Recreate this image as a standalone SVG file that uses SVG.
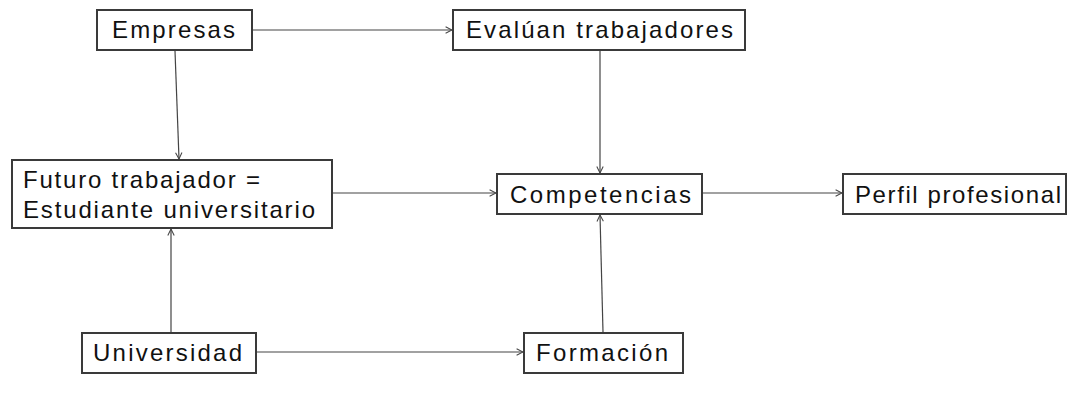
<svg xmlns="http://www.w3.org/2000/svg" width="1070" height="394" viewBox="0 0 1070 394">
<defs>
<style>
.box{fill:#fff;stroke:#3a3a3a;stroke-width:2}
.lbl{font-family:"Liberation Sans",Arial,sans-serif;font-size:24px;fill:#111}
.con{stroke:#444;stroke-width:1.2;fill:none;marker-end:url(#arr)}
</style>
<marker id="arr" viewBox="0 0 10 10" refX="9" refY="5" markerWidth="8" markerHeight="8" markerUnits="userSpaceOnUse" orient="auto">
<path d="M1,1 L9,5 L1,9" fill="none" stroke="#444" stroke-width="1.3"/>
</marker>
</defs>
<rect width="1070" height="394" fill="#fff"/>
<g id="connectors">
<line class="con" x1="253" y1="30" x2="452" y2="30"/>
<line class="con" x1="175" y1="51" x2="179" y2="159"/>
<line class="con" x1="600" y1="51" x2="600" y2="173"/>
<line class="con" x1="333" y1="193" x2="496" y2="193"/>
<line class="con" x1="703" y1="193" x2="842" y2="193"/>
<line class="con" x1="171" y1="332" x2="171" y2="229"/>
<line class="con" x1="257" y1="352" x2="523" y2="352"/>
<line class="con" x1="603" y1="332" x2="600" y2="215"/>
</g>
<g id="empresas">
<rect class="box" x="97" y="10" width="155" height="40"/>
<text class="lbl" x="112" y="38" textLength="123" lengthAdjust="spacing">Empresas</text>
</g>
<g id="evaluan">
<rect class="box" x="453" y="10" width="292" height="40"/>
<text class="lbl" x="466" y="38" textLength="267" lengthAdjust="spacing">Evalúan trabajadores</text>
</g>
<g id="futuro">
<rect class="box" x="12" y="160" width="320" height="68"/>
<text class="lbl" x="23" y="188" textLength="237" lengthAdjust="spacing">Futuro trabajador =</text>
<text class="lbl" x="23" y="218" textLength="292" lengthAdjust="spacing">Estudiante universitario</text>
</g>
<g id="competencias">
<rect class="box" x="497" y="174" width="205" height="40"/>
<text class="lbl" x="510" y="203" textLength="181" lengthAdjust="spacing">Competencias</text>
</g>
<g id="perfil">
<rect class="box" x="843" y="174" width="223" height="40"/>
<text class="lbl" x="855" y="203" textLength="206" lengthAdjust="spacing">Perfil profesional</text>
</g>
<g id="universidad">
<rect class="box" x="82" y="333" width="174" height="40"/>
<text class="lbl" x="93" y="361" textLength="149" lengthAdjust="spacing">Universidad</text>
</g>
<g id="formacion">
<rect class="box" x="524" y="333" width="159" height="40"/>
<text class="lbl" x="536" y="361" textLength="132" lengthAdjust="spacing">Formación</text>
</g>
</svg>
